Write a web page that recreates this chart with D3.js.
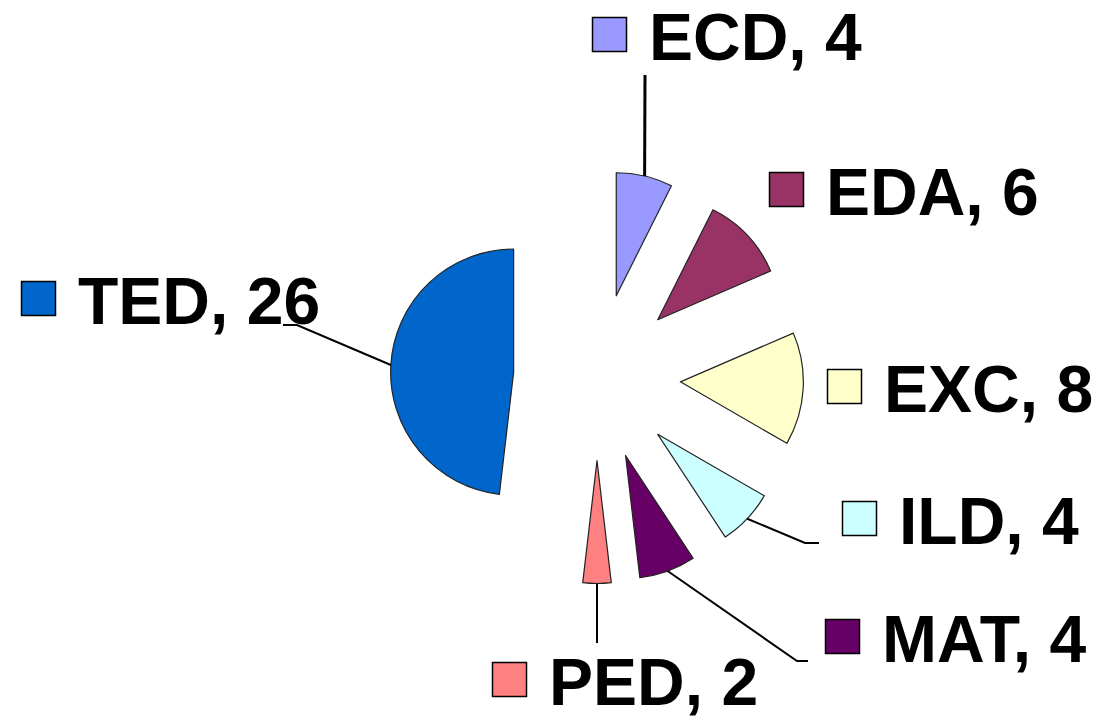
<!DOCTYPE html>
<html>
<head>
<meta charset="utf-8">
<script src="https://cdn.jsdelivr.net/npm/d3@7"></script>
<style>
  body { margin: 0; background: #fff; }
  text { font-family: "Liberation Sans", Arial, sans-serif; font-weight: bold; }
</style>
</head>
<body>
<script>
// data
var categories = ["ECD", "EDA", "EXC", "ILD", "MAT", "PED", "TED"];
var values = [4, 6, 8, 4, 4, 2, 26];
var colors = ["#9999ff", "#993366", "#ffffcc", "#ccffff", "#660066", "#ff8080", "#0066cc"];

var width = 1097, height = 719;
var cx = 597, cy = 377;
var radius = 123, explode = 83.5;

// where each legend square sits, and the bend of its leader (null = no leader)
var labelPos = {
  ECD: {sx: 592, sy: 17, bend: [[645, 75]]},
  EDA: {sx: 769, sy: 172, bend: null},
  EXC: {sx: 827, sy: 369, bend: null},
  ILD: {sx: 842, sy: 501, bend: [[805, 543], [819, 543]]},
  MAT: {sx: 825, sy: 619, bend: [[797, 661], [808, 661]]},
  PED: {sx: 492, sy: 662, bend: [[597, 643]]},
  TED: {sx: 21, sy: 281, bend: [[297, 325], [283, 325]]}
};

var svg = d3.select("body").append("svg")
  .attr("width", width)
  .attr("height", height);

var g = svg.append("g")
  .attr("transform", "translate(" + cx + "," + cy + ")");

var pie = d3.pie().sort(null).value(d => d.value);
var arc = d3.arc().innerRadius(0).outerRadius(radius);

var data = categories.map((c, i) => ({name: c, value: values[i], color: colors[i]}));
var arcs = pie(data);

function offset(d) {
  var a = (d.startAngle + d.endAngle) / 2;
  return [explode * Math.sin(a), -explode * Math.cos(a)];
}

var slices = g.selectAll("g.slice").data(arcs).enter()
  .append("g")
  .attr("class", "slice")
  .attr("transform", d => "translate(" + offset(d) + ")");

slices.append("path")
  .attr("d", arc)
  .attr("fill", d => d.data.color)
  .attr("stroke", "#222")
  .attr("stroke-width", 1.2)
  .attr("stroke-linejoin", "round");

// leader lines from the middle of each outer arc
var line = d3.line();
arcs.forEach(d => {
  var p = labelPos[d.data.name];
  if (!p.bend) return;
  var a = (d.startAngle + d.endAngle) / 2;
  var o = offset(d);
  var start = [cx + o[0] + radius * Math.sin(a), cy + o[1] - radius * Math.cos(a)];
  svg.append("path")
    .attr("d", line([start].concat(p.bend)))
    .attr("fill", "none")
    .attr("stroke", "#000")
    .attr("stroke-width", d.data.name == "ECD" ? 3 : 2);
});

// labels: coloured square + "NAME, value"
var labels = svg.selectAll("g.label").data(data).enter()
  .append("g")
  .attr("class", "label")
  .attr("transform", d => "translate(" + labelPos[d.name].sx + "," + labelPos[d.name].sy + ")");

labels.append("rect")
  .attr("x", 0.5).attr("y", 0.5)
  .attr("width", 34).attr("height", 34)
  .attr("fill", d => d.color)
  .attr("stroke", "#000")
  .attr("stroke-width", 1.5);

labels.append("text")
  .attr("x", 57)
  .attr("y", 43)
  .attr("font-size", "66px")
  .attr("fill", "#000")
  .text(d => d.name + ", " + d.value);
</script>
</body>
</html>
